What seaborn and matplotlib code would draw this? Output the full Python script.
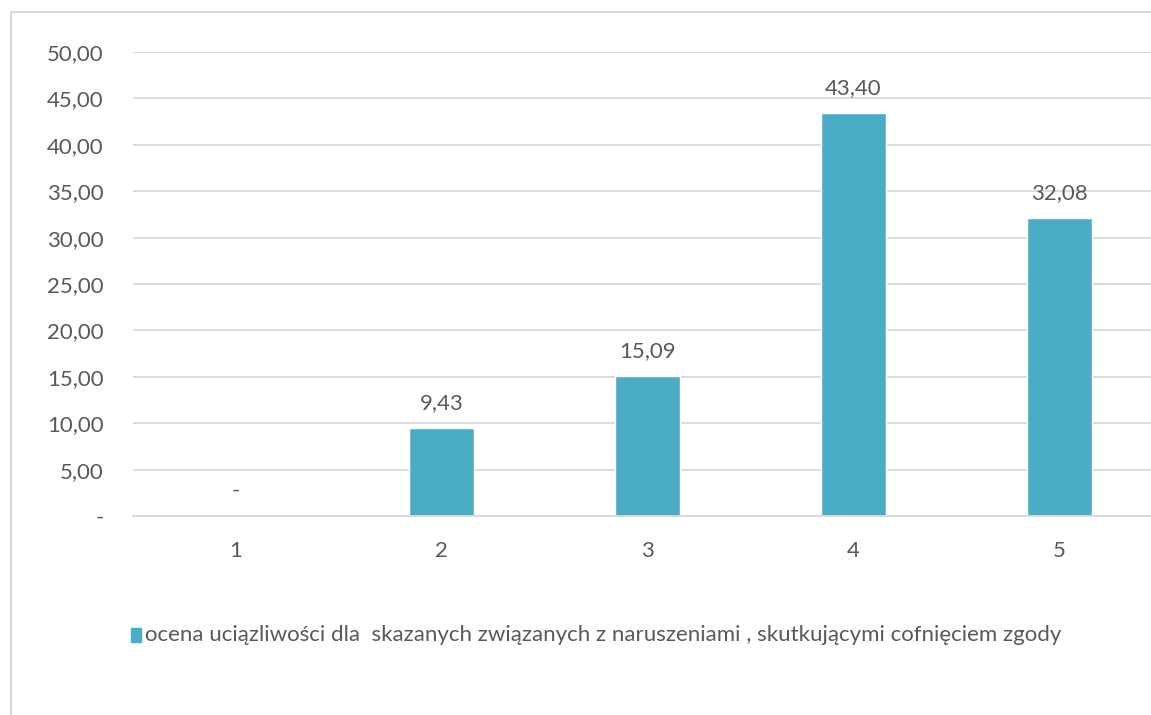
import numpy as np
import pandas as pd
import matplotlib
matplotlib.use("Agg")
import matplotlib.pyplot as plt
import seaborn as sns
from matplotlib.patches import Rectangle

# ── Data ───────────────────────────────────────────────────────────────────────
categories = ["1", "2", "3", "4", "5"]
values = [0.0, 9.43, 15.09, 43.40, 32.08]
series_name = "ocena uciązliwości dla  skazanych związanych z naruszeniami , skutkującymi cofnięciem zgody"
y_ticks = [0, 5, 10, 15, 20, 25, 30, 35, 40, 45, 50]

BAR_COLOR = "#4BACC6"
TEXT_COLOR = "#595959"
GRID_COLOR = "#D9D9D9"
FS = 16


def fmt(v):
    return "-" if v == 0 else f"{v:.2f}".replace(".", ",")


sns.set_theme(style="white")
plt.rcParams["font.family"] = ["Lato", "DejaVu Sans"]

df = pd.DataFrame({"cat": categories, "val": values})

fig = plt.figure(figsize=(11.51, 7.15), dpi=100)
W, H = 1151, 715
ax = fig.add_axes([133 / W, 1 - 516 / H, (1162 - 133) / W, (516 - 52) / H])

sns.barplot(data=df, x="cat", y="val", color=BAR_COLOR, width=0.316,
            saturation=1, ax=ax)

ax.set_ylim(0, 50)
ax.set_xlim(-0.5, 4.5)
ax.set_yticks(y_ticks)
ax.set_yticklabels([fmt(t) for t in y_ticks])
ax.yaxis.grid(True, color=GRID_COLOR, linewidth=1.3)
ax.set_axisbelow(True)
for s in ["top", "right", "left"]:
    ax.spines[s].set_visible(False)
ax.spines["bottom"].set_color(GRID_COLOR)
ax.spines["bottom"].set_linewidth(1.3)
ax.tick_params(axis="y", length=0, pad=21, labelsize=FS, labelcolor=TEXT_COLOR)
ax.tick_params(axis="x", length=0, pad=18, labelsize=FS, labelcolor=TEXT_COLOR)
ax.set_xlabel("")
ax.set_ylabel("")

for i, v in enumerate(values):
    ax.annotate(fmt(v), (i, v), xytext=(0, 11), textcoords="offset points",
                ha="center", va="bottom", fontsize=FS, color=TEXT_COLOR)

# legend
fig.patches.append(Rectangle((131 / W, 1 - 642 / H), 10 / W, 14 / H,
                             transform=fig.transFigure, color=BAR_COLOR))
fig.text(145 / W, 1 - 635 / H, series_name, fontsize=FS, color=TEXT_COLOR,
         ha="left", va="center")

# chart frame
fig.patches.append(Rectangle((11 / W, -0.1), 1.2, 1 - 12 / H + 0.1,
                             transform=fig.transFigure, fill=False,
                             edgecolor=GRID_COLOR, linewidth=1.5))

fig.savefig("out.png", dpi=100)
